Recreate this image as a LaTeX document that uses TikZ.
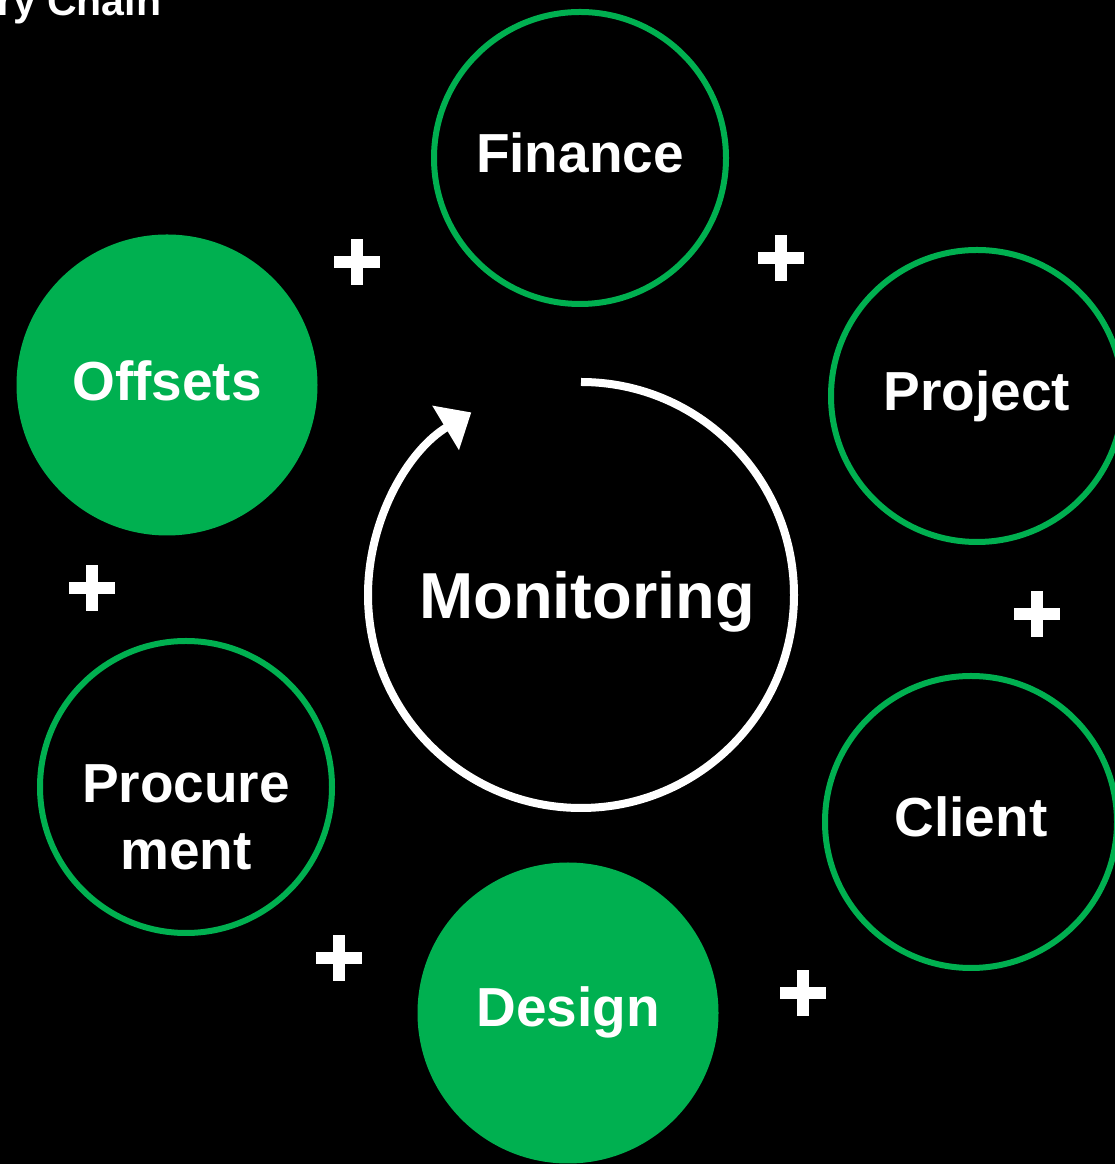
\documentclass[tikz,border=0pt]{standalone}
\usepackage{fontspec}
\setmainfont{Liberation Sans}
\usetikzlibrary{arrows.meta}
\definecolor{grn}{RGB}{0,176,80}
\begin{document}
\begin{tikzpicture}[x=1pt,y=1pt,
  ring/.style={circle, draw=grn, line width=6pt, minimum size=292pt, inner sep=0pt},
  disc/.style={circle, fill=grn, minimum size=301pt, inner sep=0pt},
  lbl/.style={text=white, font=\fontsize{55}{67}\selectfont\bfseries, align=center, inner sep=0pt},
  plusmark/.style={draw=white, line width=12pt},
  loop/.style={draw=white, line width=8pt, -{Triangle[length=30pt,width=50pt]}},
]
\useasboundingbox (0,0) rectangle (1115,1164);
\fill[black] (0,0) rectangle (1115,1164);
\clip (0,0) rectangle (1115,1164);

\node[anchor=base west, text=white, font=\fontsize{41}{48}\selectfont\bfseries, inner sep=0pt] (title) at (-3,1148) {ry Chain};

\node[ring] (finance) at (580,1006) {};
\node[ring] (project) at (977,768) {};
\node[ring] (client) at (971,342) {};
\node[disc] (design) at (568,151) {};
\node[ring] (procurement) at (186,377) {};
\node[disc] (offsets) at (167,779) {};

\node[lbl] (financet) at (580,1011) {Finance};
\node[lbl] (projectt) at (977,768) {Project};
\node[lbl] (clientt) at (971,347) {Client};
\node[lbl] (designt) at (568,152) {Design};
\node[lbl] (procurementt) at (186,347) {Procure\\ment};
\node[lbl] (offsetst) at (167,783) {Offsets};

\node[text=white, font=\fontsize{65}{78}\selectfont\bfseries, inner sep=0pt] (monitoring) at (587,562) {Monitoring};
\coordinate (mc) at (581,570);
\draw[loop] (mc) ++(90:212) arc[start angle=90, end angle=-239, radius=213];

\coordinate (p1) at (357,902);
\coordinate (p2) at (781,906);
\coordinate (p3) at (92,576);
\coordinate (p4) at (1037,550);
\coordinate (p5) at (339,206);
\coordinate (p6) at (803,171);
\foreach \p in {p1,p2,p3,p4,p5,p6}{
  \draw[plusmark] (\p) ++(-23,0) -- ++(46,0);
  \draw[plusmark] (\p) ++(0,-23) -- ++(0,46);
}
\end{tikzpicture}
\end{document}
